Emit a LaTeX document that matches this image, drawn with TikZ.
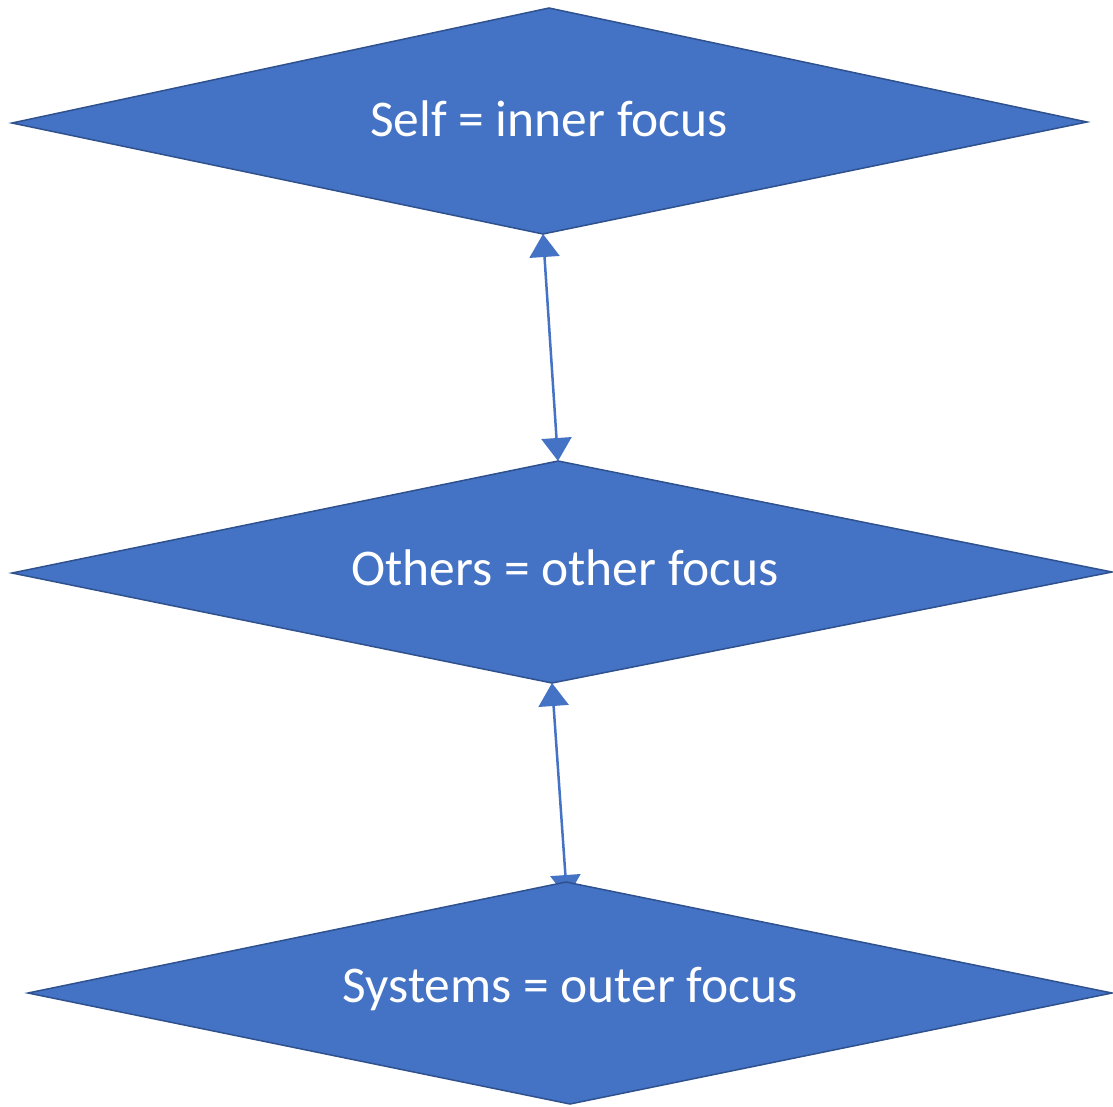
\documentclass[tikz,border=0pt]{standalone}
\usepackage{fontspec}
\setmainfont{Carlito}
\usetikzlibrary{arrows.meta}
\definecolor{boxfill}{HTML}{4472C4}
\definecolor{boxline}{HTML}{2F528F}
\tikzset{
  focusbox/.style={fill=boxfill, draw=boxline, line width=1.5pt, line join=miter},
  focustext/.style={text=white, font=\fontsize{51.5}{60}\selectfont, inner sep=0pt},
  link/.style={draw=boxfill, line width=2.5pt,
    {Triangle[width=30pt,length=23pt]}-{Triangle[width=30pt,length=23pt]}},
}
\begin{document}
\begin{tikzpicture}[x=1pt,y=-1pt]
\useasboundingbox (0,0) rectangle (1113,1106);
% corner points of the three diamonds
\coordinate (aT) at (549,8);   \coordinate (aL) at (12,123);
\coordinate (aB) at (543,234); \coordinate (aR) at (1087,122);
\coordinate (bT) at (558,461); \coordinate (bL) at (12,573);
\coordinate (bB) at (552,683); \coordinate (bR) at (1112,572);
\coordinate (cT) at (566,882); \coordinate (cL) at (28,993);
\coordinate (cB) at (570,1104);\coordinate (cR) at (1112,993);
\coordinate (cIn) at (567,898);
% two-way links between the levels
\draw[link] (aB) -- (bT);
\draw[link] (bB) -- (cIn);
% diamonds
\draw[focusbox] (aT) -- (aR) -- (aB) -- (aL) -- cycle;
\draw[focusbox] (bT) -- (bR) -- (bB) -- (bL) -- cycle;
\draw[focusbox] (cT) -- (cR) -- (cB) -- (cL) -- cycle;
% labels
\node[focustext] (self) at (549,119) {Self = inner focus};
\node[focustext] (others) at (565,568) {Others = other focus};
\node[focustext] (systems) at (570,989) {Systems = outer focus};
\end{tikzpicture}
\end{document}
